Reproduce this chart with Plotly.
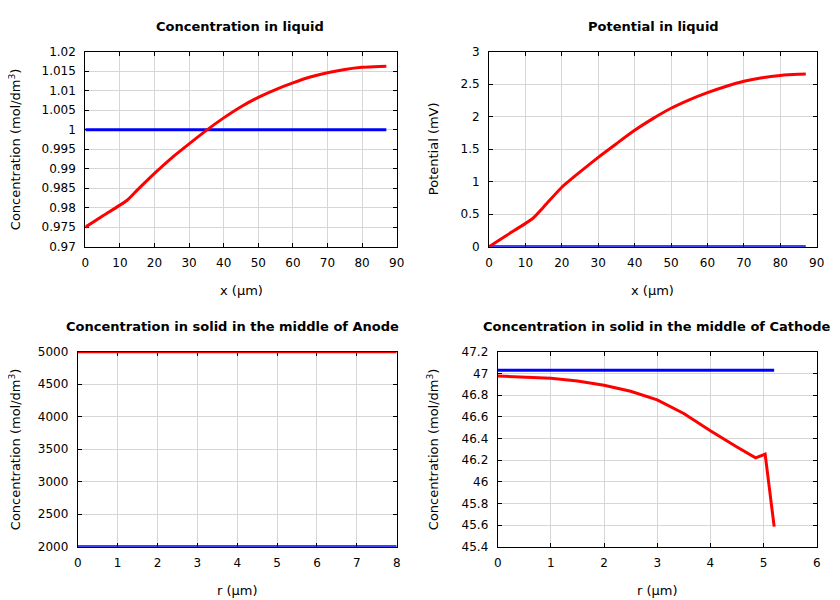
import plotly.graph_objects as go

W, H = 840, 600
OFF = 8  # page body margin of the html page; compensate so pixels line up

# ---------------- data ----------------
# Concentration in liquid (mol/dm3) vs x (um)
x_liq = [0, 5, 12, 15, 20, 25, 30, 35, 40, 45, 50, 55, 60, 65, 70, 75, 80, 85, 87]
c_liq_red = [0.97500, 0.97785, 0.98184, 0.98450, 0.98880, 0.99280, 0.99637, 0.99983,
             1.00303, 1.00590, 1.00830, 1.01030, 1.01200, 1.01350, 1.01460, 1.01545,
             1.01600, 1.01622, 1.01625]
x_liq_init = [0, 87]
c_liq_blue = [1.0, 1.0]

# Potential in liquid (mV)
phi_red = [0.0, 0.181, 0.434, 0.612, 0.915, 1.150, 1.375, 1.585, 1.790, 1.970, 2.130,
           2.260, 2.370, 2.465, 2.545, 2.600, 2.635, 2.652, 2.655]
phi_blue = [0.0, 0.0]

# Anode solid concentration
r_anode = [0, 8]
c_anode_red = [5000, 5000]
c_anode_blue = [2000, 2000]

# Cathode solid concentration
r_cath = [0, 0.5, 1, 1.5, 2, 2.5, 3, 3.5, 4, 4.5, 4.85, 5.03, 5.2]
c_cath_red = [46.975, 46.968, 46.955, 46.93, 46.89, 46.835, 46.755, 46.63, 46.47,
              46.32, 46.22, 46.255, 45.585]
r_cath_init = [0, 5.2]
c_cath_blue = [47.028, 47.028]

# tick labels
y1_vals = [0.97, 0.975, 0.98, 0.985, 0.99, 0.995, 1.0, 1.005, 1.01, 1.015, 1.02]
y1_text = ["0.97", "0.975", "0.98", "0.985", "0.99", "0.995", "1", "1.005", "1.01", "1.015", "1.02"]
y2_vals = [0, 0.5, 1, 1.5, 2, 2.5, 3]
y2_text = ["0", "0.5", "1", "1.5", "2", "2.5", "3"]
y3_vals = [2000, 2500, 3000, 3500, 4000, 4500, 5000]
y3_text = [str(v) for v in y3_vals]
y4_vals = [45.4, 45.6, 45.8, 46.0, 46.2, 46.4, 46.6, 46.8, 47.0, 47.2]
y4_text = ["45.4", "45.6", "45.8", "46", "46.2", "46.4", "46.6", "46.8", "47", "47.2"]

titles = ["Concentration in liquid", "Potential in liquid",
          "Concentration in solid in the middle of Anode",
          "Concentration in solid in the middle of Cathode"]
xtitles = ["x (µm)", "x (µm)", "r (µm)", "r (µm)"]
ytitles = ["Concentration (mol/dm<sup>3</sup>)", "Potential (mV)",
           "Concentration (mol/dm<sup>3</sup>)", "Concentration (mol/dm<sup>3</sup>)"]

# ---------------- figure ----------------
RED = "#ff0000"
BLUE = "#0000ff"
LW = 3

fig = go.Figure()


def add(x, y, color, k, smooth=False):
    line = dict(color=color, width=LW)
    if smooth:
        line.update(shape="spline", smoothing=0.5)
    fig.add_trace(go.Scatter(x=x, y=y, mode="lines", line=line,
                             xaxis="x" if k == 1 else f"x{k}",
                             yaxis="y" if k == 1 else f"y{k}",
                             showlegend=False, hoverinfo="skip"))


add(x_liq_init, c_liq_blue, BLUE, 1)
add(x_liq, c_liq_red, RED, 1, smooth=True)
add(x_liq_init, phi_blue, BLUE, 2)
add(x_liq, phi_red, RED, 2, smooth=True)
add(r_anode, c_anode_blue, BLUE, 3)
add(r_anode, c_anode_red, RED, 3)
add(r_cath_init, c_cath_blue, BLUE, 4)
add(r_cath, c_cath_red, RED, 4)

# pixel boxes of plot areas in the screenshot: (left, right, top, bottom)
boxes = [(85.3, 396.7, 51.7, 246.7), (489.0, 816.7, 51.7, 246.7),
         (77.7, 396.7, 351.7, 546.7), (497.7, 816.7, 351.7, 546.7)]
title_cx = [240, 653, 232, 657]
title_cy = [26, 26, 326, 326]
xt_cy = [290, 290, 590, 590]
yt_cx = [15, 433, 15, 433]
xranges = [[0, 90], [0, 90], [0, 8], [0, 6]]
xdt = [10, 10, 1, 1]
yranges = [[0.97, 1.02], [0, 3], [2000, 5000], [45.4, 47.2]]
yticks = [(y1_vals, y1_text), (y2_vals, y2_text), (y3_vals, y3_text), (y4_vals, y4_text)]

FONT = "DejaVu Sans"
axis_common = dict(showline=True, linecolor="black", linewidth=1, mirror="ticks",
                   ticks="inside", ticklen=4, tickcolor="black",
                   showgrid=True, gridcolor="#d6d6d6", gridwidth=1, zeroline=False,
                   tickfont=dict(family=FONT, size=12, color="black"),
                   layer="below traces", fixedrange=True, automargin=False)


def px(xp):
    return (xp - OFF) / W


def py(yp):
    return 1 - (yp - OFF) / H


layout = {}
annotations = []
for i in range(4):
    k = i + 1
    l, r, t, b = boxes[i]
    xname = "xaxis" if k == 1 else f"xaxis{k}"
    yname = "yaxis" if k == 1 else f"yaxis{k}"
    xa = "x" if k == 1 else f"x{k}"
    ya = "y" if k == 1 else f"y{k}"
    layout[xname] = dict(domain=[px(l), px(r)], anchor=ya, range=xranges[i],
                         tick0=0, dtick=xdt[i], ticklabelstandoff=5, **axis_common)
    layout[yname] = dict(domain=[py(b), py(t)], anchor=xa, range=yranges[i],
                         tickvals=yticks[i][0], ticktext=yticks[i][1],
                         ticklabelstandoff=6, **axis_common)
    cx = (l + r) / 2
    annotations.append(dict(text=f"<b>{titles[i]}</b>", x=px(title_cx[i]), y=py(title_cy[i]),
                            xref="paper", yref="paper", showarrow=False,
                            xanchor="center", yanchor="middle",
                            font=dict(family=FONT, size=13, color="black")))
    annotations.append(dict(text=xtitles[i], x=px(cx), y=py(xt_cy[i]),
                            xref="paper", yref="paper", showarrow=False,
                            xanchor="center", yanchor="middle",
                            font=dict(family=FONT, size=13, color="black")))
    annotations.append(dict(text=ytitles[i], x=px(yt_cx[i]), y=py((t + b) / 2),
                            xref="paper", yref="paper", showarrow=False, textangle=-90,
                            xanchor="center", yanchor="middle",
                            font=dict(family=FONT, size=13, color="black")))

fig.update_layout(**layout)
fig.update_layout(width=W, height=H, margin=dict(l=0, r=0, t=0, b=0, autoexpand=False),
                  paper_bgcolor="white", plot_bgcolor="white",
                  font=dict(family=FONT, size=13, color="black"),
                  annotations=annotations, showlegend=False)

fig.write_html("out.html", config={"displayModeBar": False})
